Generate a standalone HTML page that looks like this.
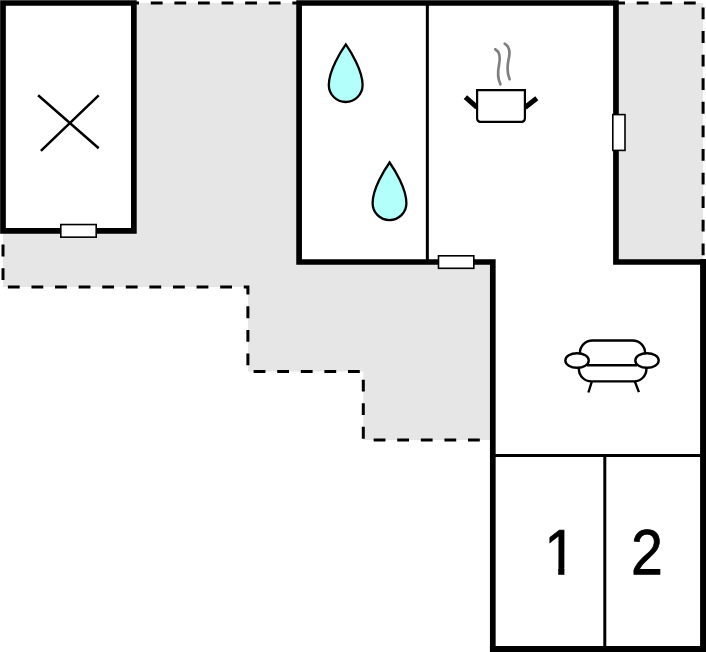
<!DOCTYPE html>
<html><head><meta charset="utf-8"><title>Floor plan</title>
<style>
html,body{margin:0;padding:0;background:#fff;}
svg{display:block;}
text{font-family:"Liberation Sans",sans-serif;fill:#000;}
</style></head>
<body>
<svg width="706" height="652" viewBox="0 0 706 652">
<defs>
<clipPath id="nofoot"><path d="M540 515 H580 V568.4 H564.4 V580 H558.2 V568.4 H540 Z"/></clipPath>
</defs>
<rect width="706" height="652" fill="#fff"/>
<!-- grey outdoor areas -->
<g fill="#e6e6e6">
<path d="M134 3 H299 V262 H493 V440.1 H363.3 V371.4 H247.9 V286.9 H3 V231 H134 Z"/>
<path d="M616 3 H703.1 V262 H616 Z"/>
</g>
<!-- dashed outlines -->
<g fill="none" stroke="#000" stroke-width="3" stroke-dasharray="11.8 11.79">
<path d="M3 231 V286.9 H247.9 V371.4 H363.3 V440.1 H493" stroke-dashoffset="10"/>
<path d="M134 3.1 H299" stroke-dashoffset="-16.8"/>
<path d="M616 3.1 H703.1 V262" stroke-dashoffset="2.85"/>
</g>
<!-- thick walls -->
<g fill="#fff" stroke="#000" stroke-width="5.7" stroke-linejoin="miter">
<path d="M3 3 H133.85 V230.8 H3 Z"/>
<path d="M299.1 3 H615.95 V262 H703.1 V648.9 H492.8 V262 H299.1 Z"/>
</g>
<rect x="489.95" y="646" width="216.05" height="6" fill="#000"/>
<rect x="700.3" y="259.15" width="5.7" height="392.85" fill="#000"/>
<!-- thin walls -->
<g fill="none" stroke="#000" stroke-width="3">
<path d="M427.35 3 V262"/>
<path d="M492.8 455.5 H703"/>
<path d="M604.8 455.5 V648.9"/>
</g>
<!-- windows -->
<g fill="#fff" stroke="#000" stroke-width="1.6">
<rect x="60.8" y="224.55" width="35.4" height="12.6"/>
<rect x="438.5" y="255.8" width="35.3" height="12.5"/>
<rect x="612.8" y="114.6" width="12.2" height="35.8"/>
</g>
<!-- X -->
<g fill="none" stroke="#000" stroke-width="2.5">
<path d="M38.1 95.3 L98.7 148.2 M98.7 95.3 L40.9 150.9"/>
</g>
<!-- drops -->
<g fill="#b2fffc" stroke="#000" stroke-width="2.3" stroke-linejoin="miter" transform="translate(-0.2 0)">
<path d="M346 44.4 C341 51.5 329 70.5 329 85.1 A16.9 16.9 0 0 0 362.8 85.1 C362.8 70.5 351 51.5 346 44.4 Z"/>
<path d="M346 44.4 C341 51.5 329 70.5 329 85.1 A16.9 16.9 0 0 0 362.8 85.1 C362.8 70.5 351 51.5 346 44.4 Z" transform="translate(43.8 118.1)"/>
</g>
<!-- pot -->
<g fill="none" stroke="#7f7f7f" stroke-width="2.7" stroke-linecap="round">
<path d="M495.2 49.3 C500 52 500.5 58 499 65 C497.5 72 497.5 78 500.4 84.3"/>
<path d="M504.7 43.7 C509.5 46.5 510.3 53 508.5 60 C507 67 507 73 509.6 79.2"/>
</g>
<g stroke="#000" stroke-width="5" fill="none">
<path d="M465.4 97.1 L477 107.4 M536.8 98.3 L525 107.45"/>
</g>
<path d="M477.1 90.2 H524.9 V118.6 A3.2 3.2 0 0 1 521.7 121.8 H480.3 A3.2 3.2 0 0 1 477.1 118.6 Z" fill="#fff" stroke="#000" stroke-width="2.2"/>
<!-- sofa -->
<g fill="none" stroke="#000" stroke-width="2.4">
<path d="M579.9 354 V353 A12.5 12.5 0 0 1 592.4 340.5 H632.6 A12.5 12.5 0 0 1 645.1 353 V354"/>
<path d="M587 365.3 H637"/>
<path d="M578.9 368 V369 A12.4 12.4 0 0 0 591.3 381.4 H634 A12.4 12.4 0 0 0 646.4 369 V368"/>
<path d="M591.8 381.6 L588.4 392.5 M634.9 381.6 L638.9 392.2"/>
<ellipse cx="577.05" cy="360.5" rx="11.7" ry="7.3" fill="#fff"/>
<ellipse cx="647.0" cy="360.5" rx="11.7" ry="7.3" fill="#fff"/>
</g>
<!-- room numbers -->
<g clip-path="url(#nofoot)"><text x="0" y="0" font-size="64" stroke="#000" stroke-width="0.8" transform="translate(544.3 574.35) scale(0.908 1) rotate(0.03)">1</text></g>
<text x="0" y="0" font-size="64" stroke="#000" stroke-width="0.8" transform="translate(631 574.35) scale(0.895 1) rotate(0.03)">2</text>
</svg>
</body></html>
